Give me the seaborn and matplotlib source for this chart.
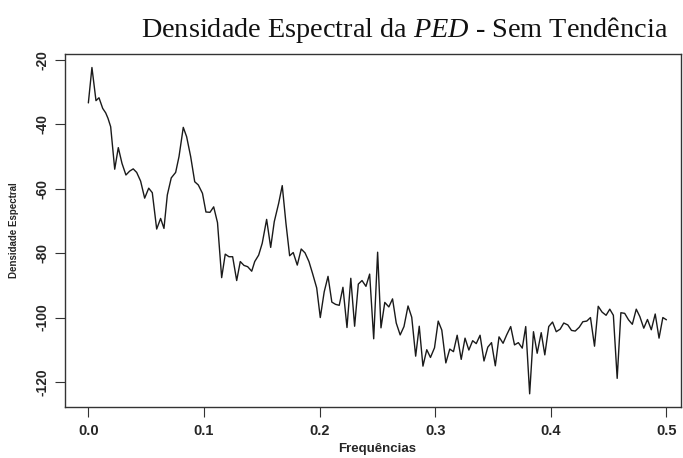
import numpy as np
import pandas as pd
import matplotlib
matplotlib.use("Agg")
import matplotlib.pyplot as plt
import seaborn as sns

freqs = [0.0000, 0.0031, 0.0066, 0.0092, 0.0124, 0.0150, 0.0170, 0.0193, 0.0228, 0.0259,
         0.0291, 0.0325, 0.0357, 0.0388, 0.0418, 0.0452, 0.0487, 0.0522, 0.0553, 0.0591,
         0.0625, 0.0654, 0.0683, 0.0717, 0.0755, 0.0784, 0.0821, 0.0850, 0.0885, 0.0920,
         0.0951, 0.0987, 0.1017, 0.1052, 0.1084, 0.1117, 0.1153, 0.1184, 0.1216, 0.1248,
         0.1283, 0.1314, 0.1346, 0.1378, 0.1413, 0.1439, 0.1473, 0.1504, 0.1542, 0.1577,
         0.1608, 0.1646, 0.1677, 0.1709, 0.1741, 0.1772, 0.1807, 0.1841, 0.1874, 0.1908,
         0.1940, 0.1975, 0.2006, 0.2040, 0.2073, 0.2106, 0.2138, 0.2170, 0.2202, 0.2237,
         0.2270, 0.2303, 0.2335, 0.2367, 0.2401, 0.2433, 0.2468, 0.2502, 0.2531, 0.2564,
         0.2599, 0.2631, 0.2663, 0.2697, 0.2730, 0.2765, 0.2797, 0.2831, 0.2862, 0.2894,
         0.2927, 0.2959, 0.2994, 0.3026, 0.3057, 0.3092, 0.3126, 0.3158, 0.3190, 0.3225,
         0.3258, 0.3291, 0.3324, 0.3355, 0.3388, 0.3422, 0.3455, 0.3487, 0.3520, 0.3552,
         0.3587, 0.3618, 0.3653, 0.3686, 0.3719, 0.3753, 0.3783, 0.3817, 0.3850, 0.3882,
         0.3917, 0.3948, 0.3982, 0.4015, 0.4047, 0.4081, 0.4112, 0.4147, 0.4179, 0.4211,
         0.4246, 0.4277, 0.4311, 0.4343, 0.4378, 0.4410, 0.4443, 0.4478, 0.4510, 0.4541,
         0.4574, 0.4606, 0.4639, 0.4672, 0.4705, 0.4739, 0.4770, 0.4804, 0.4836, 0.4869,
         0.4903, 0.4936, 0.4969, 0.5000]

densidade = [-33.3, -22.3, -32.6, -31.7, -35.0, -36.4, -38.1, -40.7, -53.9, -47.2,
             -52.1, -55.7, -54.5, -53.8, -54.9, -57.6, -62.9, -59.8, -61.2, -72.5,
             -69.2, -72.3, -61.9, -56.6, -54.9, -50.0, -40.9, -43.8, -50.0, -57.8,
             -58.8, -61.4, -67.2, -67.3, -65.6, -70.5, -87.6, -80.3, -81.1, -81.1,
             -88.5, -82.6, -83.8, -84.2, -85.6, -82.6, -80.6, -76.9, -69.5, -78.2,
             -70.2, -64.5, -59.0, -70.7, -80.8, -79.8, -83.7, -78.7, -79.9, -82.6,
             -86.4, -90.8, -100.0, -92.0, -87.2, -95.2, -95.9, -96.2, -90.6, -103.1,
             -87.8, -102.7, -89.6, -88.5, -90.3, -86.5, -106.6, -79.7, -103.2, -95.3,
             -96.7, -94.2, -101.7, -105.4, -102.8, -96.4, -99.9, -112.0, -102.7, -115.1,
             -110.0, -112.4, -109.4, -101.1, -103.9, -114.1, -109.8, -110.6, -105.5, -113.0,
             -106.4, -110.1, -107.2, -108.1, -105.5, -113.5, -109.2, -107.8, -115.0, -106.0,
             -108.0, -105.4, -102.8, -108.5, -107.8, -109.5, -102.8, -123.7, -104.4, -111.1,
             -104.7, -111.6, -102.8, -101.4, -104.4, -103.6, -101.7, -102.3, -104.0, -104.2,
             -103.0, -101.3, -101.1, -100.0, -108.9, -96.5, -98.3, -99.3, -97.4, -99.3,
             -118.9, -98.5, -98.7, -100.7, -102.1, -97.4, -99.7, -103.3, -100.6, -103.8,
             -98.9, -106.4, -100.0, -100.7]

xticks = [0.0, 0.1, 0.2, 0.3, 0.4, 0.5]
xtick_labels = ["0.0", "0.1", "0.2", "0.3", "0.4", "0.5"]
yticks = [-20, -40, -60, -80, -100, -120]
ytick_labels = ["-20", "-40", "-60", "-80", "-100", "-120"]

df = pd.DataFrame({"freq": freqs, "dens": densidade})

sns.set_style("white")
plt.rcParams["font.family"] = ["Liberation Sans", "DejaVu Sans"]
plt.rcParams["mathtext.fontset"] = "custom"
plt.rcParams["mathtext.rm"] = "Liberation Serif"
plt.rcParams["mathtext.it"] = "Liberation Serif:italic"

fig = plt.figure(figsize=(6.83, 4.58), dpi=100)
ax = fig.add_axes([65 / 683, 1 - 407 / 458, (681 - 65) / 683, (407 - 54) / 458])

sns.lineplot(data=df, x="freq", y="dens", ax=ax, color="#1a1a1a", linewidth=1.0,
             estimator=None, sort=False)

ax.set_xlim(-0.0202, 0.5126)
ax.set_ylim(-127.8, -18.1)

ax.set_xticks(xticks)
ax.set_xticklabels(xtick_labels, fontsize=10.5, fontweight="bold")
ax.set_yticks(yticks)
ax.set_yticklabels(ytick_labels, fontsize=10, fontweight="bold", rotation=90, va="center")

ax.tick_params(axis="x", direction="out", length=7, width=0.8, color="#333333", pad=5)
ax.tick_params(axis="y", direction="out", length=7, width=0.8, color="#333333", pad=4)
ax.xaxis.set_ticks_position("bottom")
ax.yaxis.set_ticks_position("left")

for s in ax.spines.values():
    s.set_visible(True)
    s.set_color("#333333")
    s.set_linewidth(1.0)

ax.set_xlabel("Frequências", fontsize=9.5, fontweight="bold")
ax.xaxis.set_label_coords((377 - 65) / 616, (407 - 449) / 353)
ax.xaxis.label.set_va("center")
ax.set_ylabel("Densidade Espectral", fontsize=7, fontweight="bold")
ax.yaxis.set_label_coords((14 - 65) / 616, 0.5)
ax.yaxis.label.set_va("center")

fig.text(405 / 683, 1 - 30 / 458, r"Densidade Espectral da $\mathit{PED}$ - Sem Tendência",
         family="Liberation Serif", fontsize=20.3, ha="center", va="center", color="#111111")

fig.savefig("out.png", dpi=100, facecolor="white")
